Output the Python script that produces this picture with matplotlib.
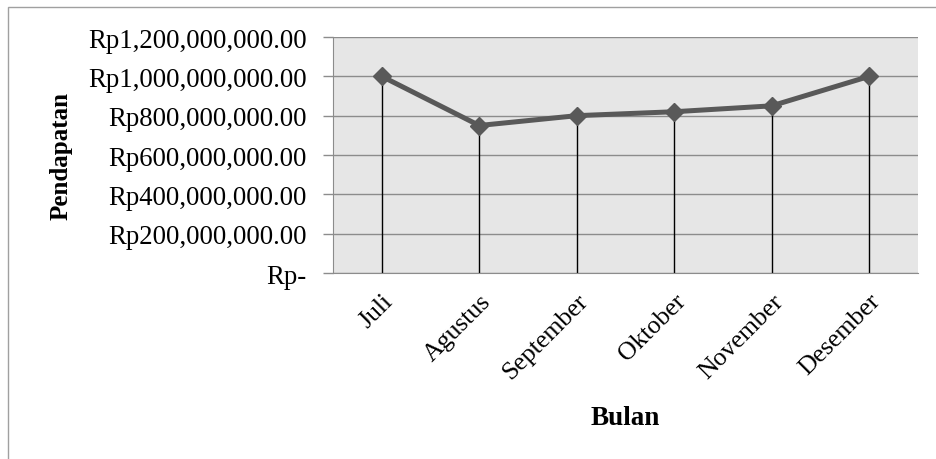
import matplotlib
matplotlib.use('Agg')
from matplotlib import pyplot as plt
from matplotlib.ticker import FuncFormatter
from matplotlib.patches import Rectangle

# data
bulan = ['Juli', 'Agustus', 'September', 'Oktober', 'November', 'Desember']
pendapatan = [1000000000, 750000000, 800000000, 820000000, 850000000, 1000000000]
y_ticks = [0, 200000000, 400000000, 600000000, 800000000, 1000000000, 1200000000]

plt.rcParams['font.family'] = ['Liberation Serif', 'DejaVu Serif']

def rupiah(v, pos):
    if v == 0:
        return 'Rp-'
    return 'Rp{:,.2f}'.format(v)

fig = plt.figure(figsize=(9.37, 4.6), dpi=100)
ax = fig.add_axes([333/937, 1-274/460, (918-333)/937, (274-38)/460])
ax.set_facecolor('#e6e6e6')

x = [i + 0.5 for i in range(len(bulan))]

# drop lines
ax.vlines(x, 0, pendapatan, color='black', linewidth=1, zorder=2)
ax.plot(x, pendapatan, color='#595959', linewidth=3.6, marker='D', markersize=9,
        markerfacecolor='#595959', markeredgecolor='#595959', zorder=3)

ax.set_xlim(0, 6)
ax.set_ylim(0, 1200000000)
ax.set_yticks(y_ticks)
ax.yaxis.set_major_formatter(FuncFormatter(rupiah))
ax.yaxis.grid(True, color='#8c8c8c', linewidth=1)
ax.set_axisbelow(True)

ax.set_xticks(x)
ax.set_xticklabels(bulan, rotation=45, ha='right', rotation_mode='anchor', fontsize=18.5)
ax.tick_params(axis='x', length=0, pad=12)
ax.tick_params(axis='y', length=7, width=1, color='#8c8c8c', pad=12, labelsize=19.3)

for s in ['top', 'right']:
    ax.spines[s].set_visible(False)
ax.spines['left'].set_color('#8c8c8c')
ax.spines['bottom'].set_color('#8c8c8c')

ax.set_ylabel('Pendapatan', fontsize=18, fontweight='bold', labelpad=11)
ax.set_xlabel('Bulan', fontsize=19.5, fontweight='bold', labelpad=16)

# outer chart frame
fig.patches.append(Rectangle((8/937, -0.1), 1.1, 1.1 - 8/460,
                             transform=fig.transFigure, fill=False,
                             edgecolor='#a0a0a0', linewidth=1))

fig.savefig('out.png', dpi=100)
